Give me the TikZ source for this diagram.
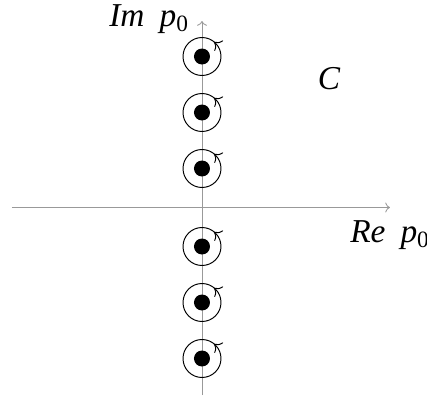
\documentclass[tikz,border=0pt]{standalone}
\usepackage{amsmath}
\usepackage{fontspec}
\setmainfont{Liberation Serif}
\usetikzlibrary{arrows.meta,decorations.markings}

\begin{document}
\begin{tikzpicture}[
  x=0.02cm, y=0.02cm,
  axis/.style={->, gray!80, line width=0.5pt},
  pole/.style={circle, fill=black, inner sep=0pt, minimum size=16*0.02cm},
  contour/.style={line width=0.55pt, postaction=decorate,
    decoration={markings, mark=at position 0.14 with {\arrow{To[scale=1.3]}}}},
  lab/.style={font=\fontsize{19}{23}\selectfont\itshape, inner sep=0pt}
]
\useasboundingbox (-202,-188.5) rectangle (225,207.5);
% axes
\coordinate (west) at (-190,0);
\coordinate (east) at (188,0);
\coordinate (south) at (0,-187.5);
\coordinate (north) at (0,186.5);
\draw[axis] (west) -- (east);
\draw[axis] (south) -- (north);
% poles with small contours round them
\foreach \y [count=\i] in {151,95,39,-39,-95,-151} {
  \node[pole] (pole\i) at (0,\y) {};
  \draw[contour] (pole\i) circle[radius=19];
}
\node[lab, anchor=base west] (im) at (-93,181.5) {Im\hspace{0.3cm}p$_{\textup{0}}$};
\node[lab] (c) at (127,128.5) {C};
\node[lab, anchor=base west] (re) at (148,-34.5) {Re\hspace{0.3cm}p$_{\textup{0}}$};
\end{tikzpicture}
\end{document}
